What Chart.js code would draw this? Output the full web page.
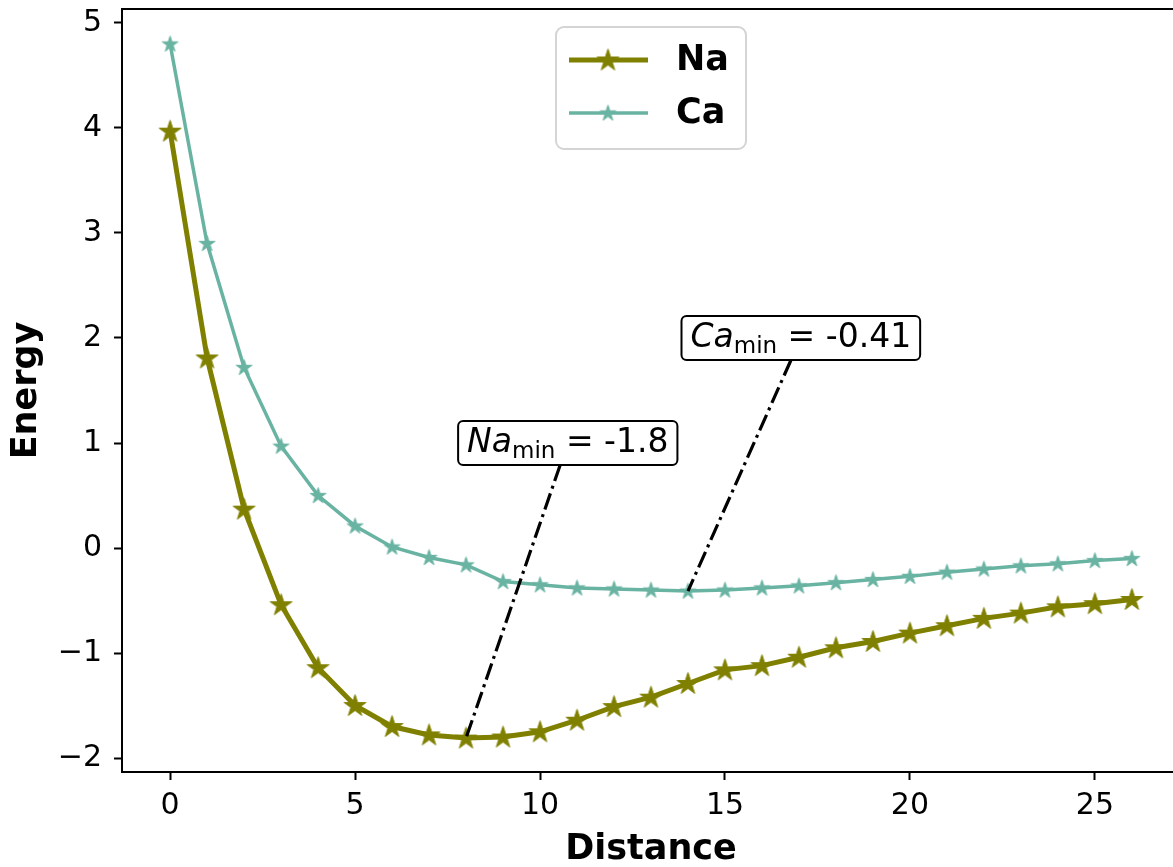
<!DOCTYPE html>
<html>
<head>
<meta charset="utf-8">
<script src="https://cdn.jsdelivr.net/npm/chart.js@4.4.0/dist/chart.umd.min.js"></script>
<style>
    html, body { margin: 0; padding: 0; background: #fff; overflow: hidden; }
    #wrap { width: 1173px; height: 867px; overflow: hidden; }
</style>
</head>
<body>
<div id="wrap"><canvas id="energyChart" width="1190" height="867"></canvas></div>
<script>
// Data
const distance = [0, 1, 2, 3, 4, 5, 6, 7, 8, 9, 10, 11, 12, 13, 14, 15, 16, 17, 18, 19, 20, 21, 22, 23, 24, 25, 26];
const naEnergy = [3.97, 1.81, 0.37, -0.54, -1.14, -1.50, -1.70, -1.78, -1.81, -1.80, -1.75, -1.64, -1.51, -1.42, -1.29,
    -1.16, -1.12, -1.04, -0.95, -0.89, -0.81, -0.74, -0.67, -0.62, -0.56, -0.53, -0.49];
const caEnergy = [4.80, 2.90, 1.72, 0.97, 0.50, 0.21, 0.01, -0.09, -0.16, -0.32, -0.35, -0.38, -0.39, -0.40, -0.41,
    -0.40, -0.38, -0.36, -0.33, -0.30, -0.27, -0.23, -0.20, -0.17, -0.15, -0.12, -0.10];
const seriesNames = ['Na', 'Ca'];
const xTicks = [0, 5, 10, 15, 20, 25];
const yTicks = [-2, -1, 0, 1, 2, 3, 4, 5];
const minLabels = ['-1.8', '-0.41'];
const minIndex = [8, 14];

const FONT = '"DejaVu Sans", "Liberation Sans", sans-serif';
const naColor = '#808000';
const caColor = '#69b3a2';

// filled star marker, like matplotlib '*'
function makeStar(r, color) {
    const c = document.createElement('canvas');
    const s = Math.ceil(r * 2 + 4);
    c.width = s; c.height = s;
    const g = c.getContext('2d');
    g.translate(s / 2, s / 2 + r * 0.05);
    g.beginPath();
    for (let i = 0; i < 10; i++) {
        const rr = i % 2 === 0 ? r : r * 0.382;
        const a = -Math.PI / 2 + i * Math.PI / 5;
        g.lineTo(rr * Math.cos(a), rr * Math.sin(a));
    }
    g.closePath();
    g.fillStyle = color;
    g.fill();
    g.lineWidth = 1;
    g.strokeStyle = color;
    g.stroke();
    return c;
}
const naStar = makeStar(11.5, naColor);
const caStar = makeStar(8.3, caColor);

// where the min labels sit (data coords of the box centre)
const labelAnchors = [{ x: 10.75, y: 1.0 }, { x: 17.05, y: 2.0 }];

const extrasPlugin = {
    id: 'extras',
    afterDatasetsDraw(chart) {
        const ctx = chart.ctx;
        const xs = chart.scales.x, ys = chart.scales.y;
        const area = chart.chartArea;
        const F = 33;

        // frame (top + right spines)
        ctx.save();
        ctx.strokeStyle = '#000';
        ctx.lineWidth = 2;
        ctx.beginPath();
        ctx.moveTo(area.left, area.top);
        ctx.lineTo(area.right, area.top);
        ctx.lineTo(area.right, area.bottom);
        ctx.stroke();
        ctx.restore();

        // min annotations
        const series = [naEnergy, caEnergy];
        minIndex.forEach((idx, k) => {
            const px = xs.getPixelForValue(distance[idx]);
            const py = ys.getPixelForValue(series[k][idx]);
            const cx = xs.getPixelForValue(labelAnchors[k].x);
            const cy = ys.getPixelForValue(labelAnchors[k].y);

            ctx.save();
            const partName = 'italic ' + F + 'px ' + FONT;
            const partSub = Math.round(F * 0.7) + 'px ' + FONT;
            const partVal = F + 'px ' + FONT;
            ctx.font = partName; const wName = ctx.measureText(seriesNames[k]).width;
            ctx.font = partSub; const wSub = ctx.measureText('min').width;
            ctx.font = partVal; const wEq = ctx.measureText(' = ').width;
            const wVal = ctx.measureText(minLabels[k]).width;
            const total = wName + wSub + wEq + wVal;
            const pad = 9;
            const bx = cx - total / 2 - pad, bw = total + pad * 2;
            const by = cy - 22, bh = 44;

            // leader line, from box edge to the point
            const ex = cx + (px - cx) * ((by + bh) - cy) / (py - cy);
            ctx.setLineDash([17, 5, 3, 5]);
            ctx.lineWidth = 3.2;
            ctx.strokeStyle = '#000';
            ctx.beginPath();
            ctx.moveTo(ex, by + bh);
            ctx.lineTo(px, py);
            ctx.stroke();
            ctx.setLineDash([]);

            ctx.beginPath();
            ctx.roundRect(bx, by, bw, bh, 5);
            ctx.fillStyle = '#fff';
            ctx.fill();
            ctx.lineWidth = 2;
            ctx.stroke();

            const base = cy + 9;
            let tx = cx - total / 2;
            ctx.fillStyle = '#000';
            ctx.textBaseline = 'alphabetic';
            ctx.textAlign = 'left';
            ctx.font = partName; ctx.fillText(seriesNames[k], tx, base); tx += wName;
            ctx.font = partSub; ctx.fillText('min', tx, base + 6); tx += wSub;
            ctx.font = partVal; ctx.fillText(' = ', tx, base); tx += wEq;
            ctx.fillText(minLabels[k], tx, base);
            ctx.restore();
        });
    },
    afterDraw(chart) {
        // legend box, matplotlib style
        const ctx = chart.ctx;
        ctx.save();
        ctx.beginPath();
        ctx.roundRect(556, 27, 190, 122, 8);
        ctx.fillStyle = 'rgba(255,255,255,0.8)';
        ctx.fill();
        ctx.strokeStyle = '#d4d4d4';
        ctx.lineWidth = 2;
        ctx.stroke();

        const rows = [
            { color: naColor, width: 5, star: naStar, y: 60 },
            { color: caColor, width: 3.5, star: caStar, y: 113 }
        ];
        rows.forEach((r, i) => {
            ctx.strokeStyle = r.color;
            ctx.lineWidth = r.width;
            ctx.beginPath();
            ctx.moveTo(569, r.y);
            ctx.lineTo(648, r.y);
            ctx.stroke();
            ctx.drawImage(r.star, 608 - r.star.width / 2, r.y - r.star.height / 2);
            ctx.fillStyle = '#000';
            ctx.font = 'bold 35px ' + FONT;
            ctx.textBaseline = 'middle';
            ctx.textAlign = 'left';
            ctx.fillText(seriesNames[i], 676, r.y + 1);
        });
        ctx.restore();
    }
};

const minus = v => (v < 0 ? '\u2212' + Math.abs(v) : String(v));

const energyCtx = document.getElementById('energyChart');
const energyChart = new Chart(energyCtx, {
    type: 'line',
    data: {
        datasets: [{
            label: seriesNames[0],
            data: distance.map((d, i) => ({ x: d, y: naEnergy[i] })),
            borderColor: naColor,
            backgroundColor: naColor,
            borderWidth: 5,
            pointStyle: naStar,
            pointRadius: 11,
            tension: 0,
            fill: false
        }, {
            label: seriesNames[1],
            data: distance.map((d, i) => ({ x: d, y: caEnergy[i] })),
            borderColor: caColor,
            backgroundColor: caColor,
            borderWidth: 3.5,
            pointStyle: caStar,
            pointRadius: 8,
            tension: 0,
            fill: false
        }]
    },
    options: {
        responsive: false,
        animation: false,
        devicePixelRatio: 1,
        layout: { autoPadding: false, padding: { top: 9, right: 10, left: 0, bottom: 0 } },
        plugins: {
            legend: { display: false },
            tooltip: { enabled: false }
        },
        scales: {
            x: {
                type: 'linear',
                min: -1.3,
                max: 27.3,
                afterBuildTicks: s => { s.ticks = xTicks.map(v => ({ value: v })); },
                afterFit: s => { s.height = 95; s.paddingLeft = 0; s.paddingRight = 0; },
                border: { display: true, color: '#000', width: 2 },
                grid: { display: true, drawOnChartArea: false, drawTicks: true, tickLength: 8, tickWidth: 2, tickColor: '#000' },
                ticks: { color: '#000', font: { family: FONT, size: 30 }, padding: 8, maxRotation: 0, callback: minus },
                title: { display: true, text: 'Distance', color: '#000', font: { family: FONT, size: 35, weight: 'bold', lineHeight: 1 }, padding: 0 }
            },
            y: {
                min: -2.133,
                max: 5.133,
                afterBuildTicks: s => { s.ticks = yTicks.map(v => ({ value: v })); },
                afterFit: s => { s.width = 122; s.paddingTop = 0; s.paddingBottom = 0; },
                border: { display: true, color: '#000', width: 2 },
                grid: { display: true, drawOnChartArea: false, drawTicks: true, tickLength: 8, tickWidth: 2, tickColor: '#000' },
                ticks: { color: '#000', font: { family: FONT, size: 30 }, padding: 12, callback: minus },
                title: { display: true, text: 'Energy', color: '#000', font: { family: FONT, size: 35, weight: 'bold', lineHeight: 1 }, padding: { top: 9, bottom: 0 } }
            }
        }
    },
    plugins: [extrasPlugin]
});
</script>
</body>
</html>
